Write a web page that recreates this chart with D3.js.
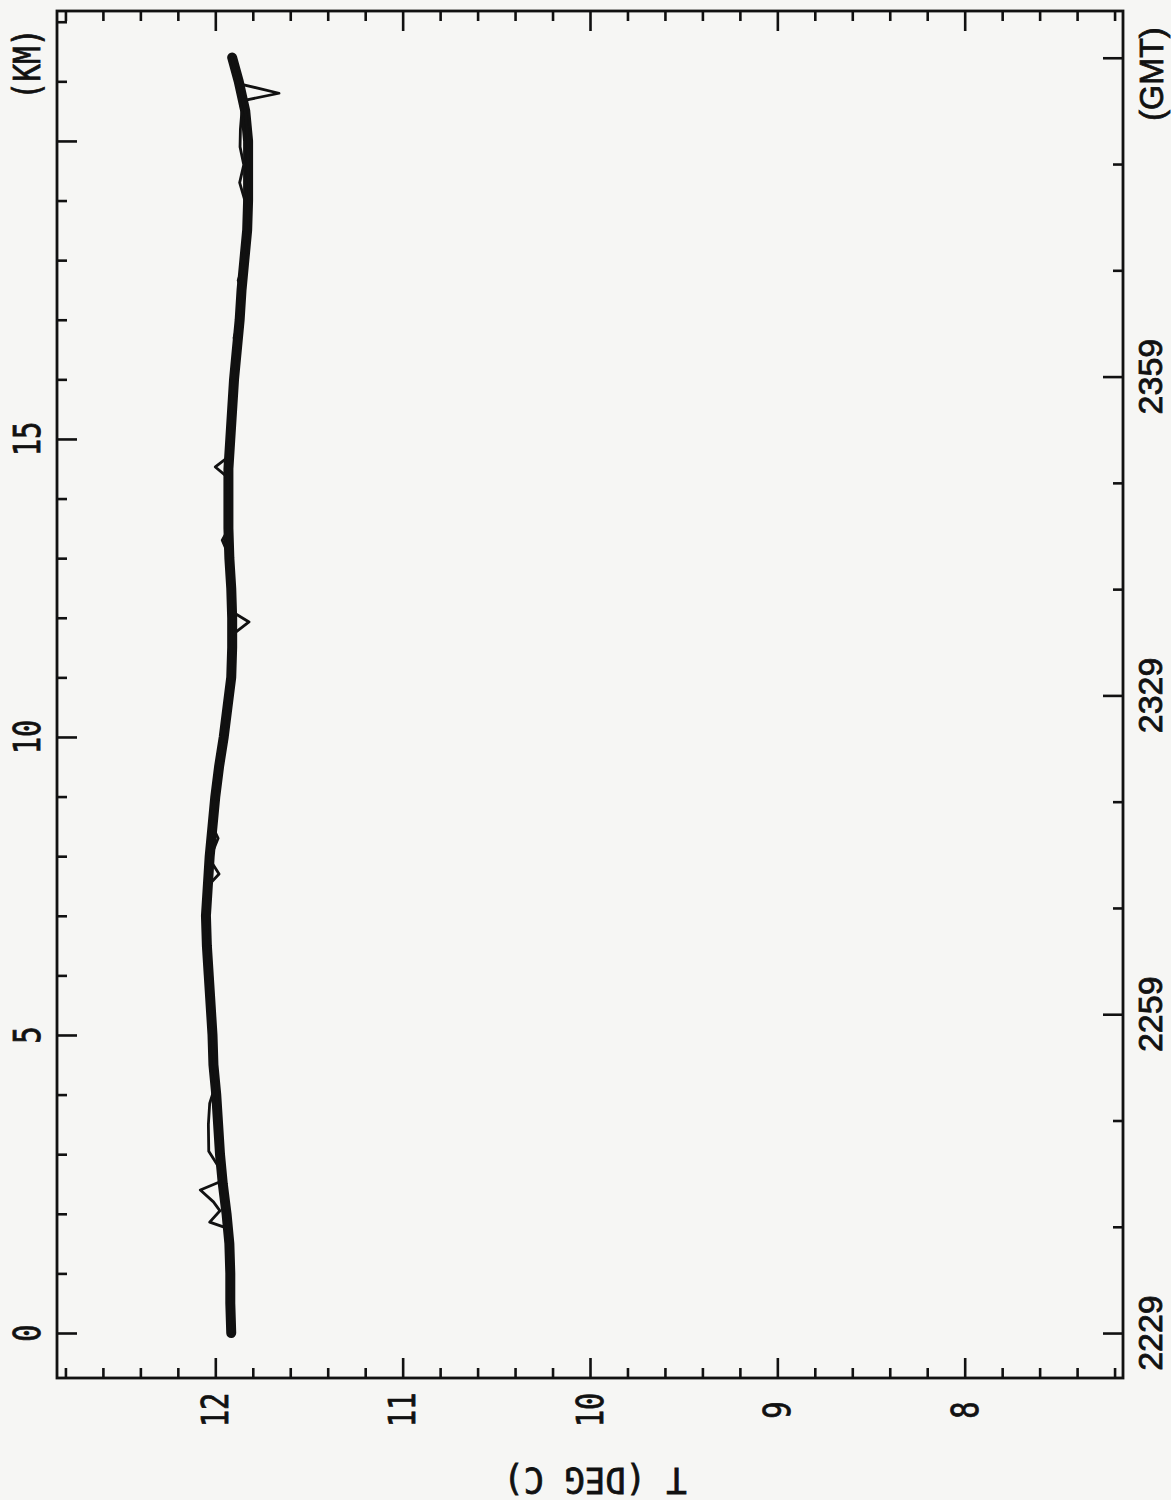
<!DOCTYPE html>
<html><head><meta charset="utf-8">
<script src="https://cdn.jsdelivr.net/npm/d3@7"></script>
<style>body{margin:0;background:#f6f6f4;} svg{display:block}</style>
</head><body><svg id="c" width="1171" height="1500"></svg>
<script>
// ---- data (temperature in deg C vs distance in km) ----
const kmGrid = [0,0.5,1,1.5,2,2.5,3,3.5,4,4.5,5,5.5,6,6.5,7,7.5,8,8.5,9,9.5,10,10.5,11,11.5,12,12.5,13,13.5,14,14.5,15,15.5,16,16.5,17,17.5,18,18.5,19,19.5,20,20.5,21,21.4];
const meanT = [11.915,11.92,11.92,11.925,11.94,11.96,11.975,11.985,11.995,12.01,12.015,12.025,12.035,12.045,12.05,12.04,12.03,12.015,12.0,11.98,11.955,11.935,11.915,11.91,11.91,11.915,11.925,11.93,11.93,11.93,11.92,11.91,11.90,11.885,11.87,11.86,11.845,11.83,11.825,11.825,11.825,11.84,11.875,11.91];

const run1Km = [0,0.5,1,1.5,2,2.5,3,3.5,4,4.5,5,5.5,6,6.5,7,7.5,8,8.5,9,9.5,10,10.5,11,11.5,12,12.5,13,13.5,14,14.5,15,15.5,16,16.5,17,17.5,18,18.5,19,19.5,20,20.5,20.68,20.8,20.95,21.2,21.4];
const run1T = [11.92,11.925,11.918,11.93,11.945,11.965,11.98,11.99,12.0,12.012,12.02,12.03,12.04,12.048,12.052,12.045,12.034,12.02,12.004,11.985,11.96,11.94,11.92,11.915,11.912,11.918,11.928,11.935,11.934,11.933,11.925,11.915,11.905,11.89,11.876,11.866,11.85,11.836,11.83,11.83,11.83,11.842,11.845,11.66,11.86,11.89,11.915];

const run2Km = [0,0.5,1,1.5,1.75,1.86,2.05,2.2,2.4,2.55,2.75,3.05,3.5,3.85,4.15,4.5,5,5.5,6,6.5,7,7.5,8,8.5,9,9.5,10,10.5,11,11.5,12,12.5,13,13.5,14,14.5,15,15.5,16,16.5,17,17.5,18,18.5,19,19.5,20,20.5,21,21.4];
const run2T = [11.91,11.915,11.915,11.92,11.93,12.03,11.975,12.01,12.08,11.965,11.975,12.035,12.037,12.03,12.0,12.008,12.012,12.02,12.03,12.04,12.046,12.036,12.025,12.01,11.995,11.975,11.95,11.93,11.91,11.905,11.905,11.91,11.92,11.925,11.925,11.926,11.915,11.905,11.895,11.88,11.865,11.855,11.84,11.826,11.82,11.82,11.82,11.836,11.87,11.905];

const run3Km = [0,0.5,1,1.5,2,2.5,3,3.5,4,4.5,5,5.5,6,6.5,7,7.5,7.7,7.95,8.3,8.5,9,9.5,10,10.5,11,11.5,11.7,11.93,12.1,12.5,13,13.3,13.5,14,14.35,14.53,14.7,15,15.5,16,16.5,17,17.5,18,18.5,19,19.5,20,20.5,21,21.4];
const run3T = [11.912,11.918,11.922,11.928,11.942,11.958,11.97,11.98,11.99,12.006,12.012,12.022,12.032,12.042,12.048,12.04,11.98,12.03,11.985,12.015,11.998,11.978,11.952,11.932,11.912,11.908,11.915,11.82,11.91,11.912,11.922,11.963,11.928,11.928,11.932,12.0,11.93,11.918,11.908,11.898,11.882,11.868,11.858,11.842,11.828,11.822,11.824,11.826,11.84,11.876,11.912];

const run4Km = [0,0.5,1,1.5,2,2.5,3,3.5,4,4.5,5,5.5,6,6.5,7,7.5,8,8.5,9,9.5,10,10.5,11,11.5,12,12.5,13,13.5,14,14.5,15,15.5,16,16.5,16.7,17,17.5,17.66,17.9,18.5,19,19.3,19.6,19.9,20.2,20.5,21,21.4];
const run4T = [11.918,11.922,11.925,11.93,11.936,11.955,11.972,11.982,11.992,12.004,12.018,12.028,12.038,12.05,12.054,12.044,12.03,12.018,12.004,11.984,11.958,11.94,11.918,11.914,11.913,11.918,11.93,11.934,11.932,11.935,11.924,11.914,11.902,11.886,11.9,11.872,11.862,11.878,11.852,11.836,11.842,11.87,11.848,11.868,11.866,11.858,11.882,11.912];

// ---- ticks / labels ----
const tempMajorTicks = [8,9,10,11,12];
const tempMinorTicks = [7.2,7.4,7.6,7.8,8.2,8.4,8.6,8.8,9.2,9.4,9.6,9.8,10.2,10.4,10.6,10.8,11.2,11.4,11.6,11.8,12.2,12.4,12.6,12.8];
const tempLabels = ["8","9","10","11","12"];
const kmMajorTicks = [0,5,10,15,20];
const kmMinorTicks = [1,2,3,4,6,7,8,9,11,12,13,14,16,17,18,19,21,22];
const kmLabelValues = [0,5,10,15];
const kmLabels = ["0","5","10","15"];
const timeMajorTicks = [0,30,60,90,120];      // minutes after 22:29 GMT
const timeMinorTicks = [10,20,40,50,70,80,100,110];
const timeLabelValues = [0,30,60,90];
const timeLabels = ["2229","2259","2329","2359"];

// ---- layout ----
const box = {l:57, r:1123, t:11, b:1378};
const svg = d3.select("#c");
svg.append("rect").attr("width",1171).attr("height",1500).attr("fill","#f6f6f4");

const x = d3.scaleLinear().domain([12.845,7.155]).range([box.l,box.r]);
const y = d3.scaleLinear().domain([-0.755,22.18]).range([box.b,box.t]);
const yt = d3.scaleLinear().domain([-4.23,124.4]).range([box.b,box.t]);

const ink = "#111";
function styleAxis(g){
  g.select(".domain").remove();
  g.selectAll(".tick line").attr("stroke",ink).attr("stroke-width",2.6);
  g.selectAll(".tick text").remove();
}
function addAxis(axisFn, scale, vals, size, tr){
  svg.append("g").attr("transform",tr)
    .call(axisFn(scale).tickValues(vals).tickSize(size).tickFormat(""))
    .call(styleAxis);
}
addAxis(d3.axisBottom, x, tempMinorTicks, -10, `translate(0,${box.b})`);
addAxis(d3.axisBottom, x, tempMajorTicks, -20, `translate(0,${box.b})`);
addAxis(d3.axisTop, x, tempMinorTicks, -10, `translate(0,${box.t})`);
addAxis(d3.axisTop, x, tempMajorTicks, -20, `translate(0,${box.t})`);
addAxis(d3.axisLeft, y, kmMinorTicks, -10, `translate(${box.l},0)`);
addAxis(d3.axisLeft, y, kmMajorTicks, -20, `translate(${box.l},0)`);
addAxis(d3.axisRight, yt, timeMinorTicks, -10, `translate(${box.r},0)`);
addAxis(d3.axisRight, yt, timeMajorTicks, -20, `translate(${box.r},0)`);

svg.append("rect").attr("x",box.l).attr("y",box.t)
  .attr("width",box.r-box.l).attr("height",box.b-box.t)
  .attr("fill","none").attr("stroke",ink).attr("stroke-width",2.8);

// ---- labels ----
const mono = "'DejaVu Sans Mono', monospace";
const sans = "'Liberation Sans', Arial, sans-serif";
function label(px,py,txt,rot,sx,font,size,weight){
  svg.append("text")
    .attr("transform",`translate(${px},${py}) rotate(${rot}) scale(${sx},1)`)
    .attr("text-anchor","middle").attr("dominant-baseline","central")
    .attr("font-family",font).attr("font-size",size).attr("font-weight",weight||"normal")
    .attr("fill",ink).attr("stroke",ink).attr("stroke-width",0.8)
    .text(txt);
}
tempMajorTicks.forEach((v,i)=>label(x(v),1410,tempLabels[i],-90,0.78,mono,37));
kmLabelValues.forEach((v,i)=>label(27,y(v),kmLabels[i],-90,0.78,mono,37));
label(27,64,"(KM)",-90,0.8,mono,37);
timeLabelValues.forEach((v,i)=>label(1150,yt(v),timeLabels[i],-90,1,sans,34));
label(1151,74,"(GMT)",-90,0.95,sans,34);
label(595,1480,"T (DEG C)",180,0.94,mono,36);

// ---- traces ----
const line = d3.line().x(d=>x(d[1])).y(d=>y(d[0]));
const zip = (a,b)=>a.map((v,i)=>[v,b[i]]);
svg.append("path").datum(zip(kmGrid,meanT)).attr("d",line)
  .attr("fill","none").attr("stroke",ink).attr("stroke-width",10)
  .attr("stroke-linejoin","round").attr("stroke-linecap","round");
[[run1Km,run1T],[run2Km,run2T],[run3Km,run3T],[run4Km,run4T]].forEach(([k,t])=>{
  svg.append("path").datum(zip(k,t)).attr("d",line)
    .attr("fill","none").attr("stroke",ink).attr("stroke-width",2.8)
    .attr("stroke-linejoin","round").attr("stroke-linecap","round");
});
</script>
</body></html>
